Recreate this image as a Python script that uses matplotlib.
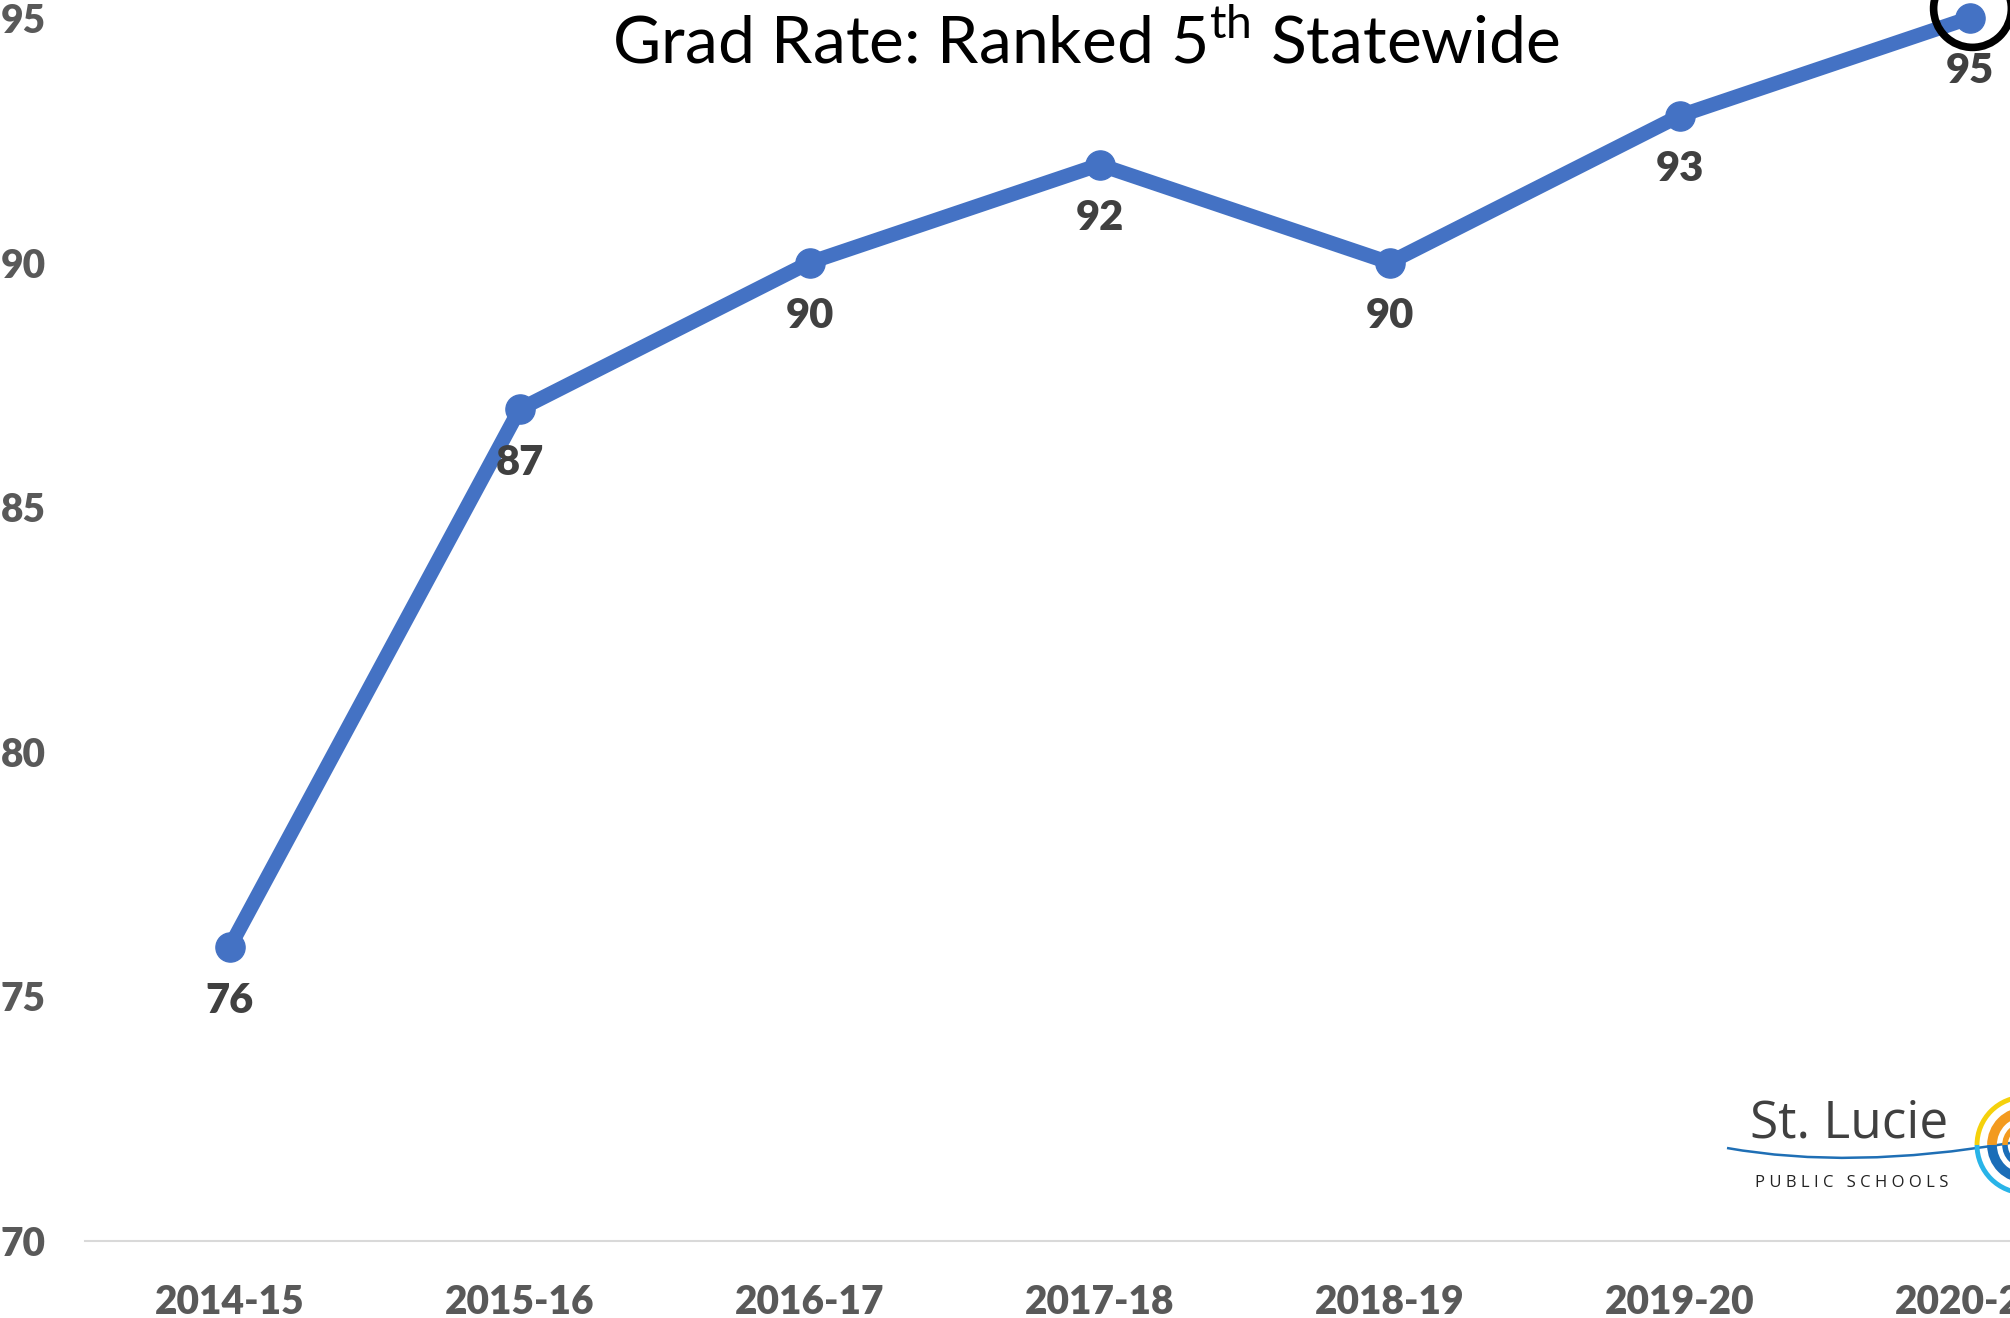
import matplotlib
matplotlib.use("Agg")
import matplotlib.pyplot as plt
import matplotlib.transforms as mtransforms
from matplotlib.patches import Arc, PathPatch
from matplotlib.path import Path

years = ["2014-15", "2015-16", "2016-17", "2017-18", "2018-19", "2019-20", "2020-21"]
grad_rate = [76, 87, 90, 92, 90, 93, 95]
y_ticks = [70, 75, 80, 85, 90, 95]

plt.rcParams['font.family'] = ['Lato', 'DejaVu Sans']
plt.rcParams['mathtext.fontset'] = 'custom'
plt.rcParams['mathtext.rm'] = 'Lato'

fig = plt.figure(figsize=(20.10, 13.18), dpi=100)
ax = fig.add_axes([84.5 / 2010, 77 / 1318, 2030 / 2010, 1223 / 1318])

x = list(range(len(years)))
ax.plot(x, grad_rate, color="#4472C4", lw=10.5, marker="o", markersize=21,
        solid_capstyle="round", zorder=3, clip_on=False)

for xi, v in zip(x, grad_rate):
    ax.annotate(str(v), (xi, v), xytext=(0, -47), textcoords="offset points",
                ha="center", va="baseline", fontsize=30, fontweight="heavy",
                color="#404040", zorder=4)

# ring round the latest value
ring = mtransforms.offset_copy(ax.transData, fig=fig, x=2, y=10, units="dots")
ax.plot([x[-1]], [grad_rate[-1]], marker="o", markersize=56, mfc="none",
        mec="black", mew=5.5, transform=ring, clip_on=False, zorder=5)

ax.set_xlim(-0.5, len(years) - 0.5)
ax.set_ylim(70, 95)
ax.set_xticks(x)
ax.set_xticklabels(years)
ax.set_yticks(y_ticks)
for s in ["top", "right", "left"]:
    ax.spines[s].set_visible(False)
ax.spines["bottom"].set_color("#d9d9d9")
ax.spines["bottom"].set_linewidth(1.5)
ax.tick_params(axis="both", length=0, labelsize=28, labelcolor="#595959")
ax.tick_params(axis="y", pad=28)
ax.tick_params(axis="x", pad=31)
for lab in ax.get_xticklabels() + ax.get_yticklabels():
    lab.set_fontweight("heavy")

fig.text(1086 / 2010, 1 - 63 / 1318, r"Grad Rate: Ranked 5$^{\mathrm{th}}$ Statewide",
         ha="center", va="baseline", fontsize=47.5, color="black")

# logo
lg = fig.add_axes([1700 / 2010, (1318 - 1200) / 1318, 310 / 2010, 120 / 1318])
lg.set_xlim(1700, 2010)
lg.set_ylim(1200, 1080)
lg.axis("off")
lg.text(1750, 1137, "St. Lucie", fontsize=37, color="#404040", ha="left",
        va="baseline", family=["Open Sans", "DejaVu Sans"])
lg.text(1755, 1187, "\u2009\u200a".join("PUBLIC SCHOOLS"), fontsize=12, color="#222222",
        ha="left", va="baseline", family=["Open Sans", "DejaVu Sans"])
wave = Path([(1727, 1148), (1850, 1170), (2010, 1143)],
            [Path.MOVETO, Path.CURVE3, Path.CURVE3])
lg.add_patch(PathPatch(wave, fc="none", ec="#1f6fb5", lw=1.8))
c = (2025, 1145)
lg.add_patch(Arc(c, 96, 96, theta1=180, theta2=270, color="#f5d10c", lw=3.5))
lg.add_patch(Arc(c, 96, 96, theta1=90, theta2=180, color="#29b4e8", lw=3.5))
lg.add_patch(Arc(c, 66, 66, theta1=180, theta2=270, color="#f39a1f", lw=7))
lg.add_patch(Arc(c, 66, 66, theta1=90, theta2=180, color="#1a6db8", lw=7))
lg.add_patch(Arc(c, 40, 40, theta1=180, theta2=270, color="#f39a1f", lw=4))
lg.add_patch(Arc(c, 40, 40, theta1=90, theta2=180, color="#1a6db8", lw=4))

fig.savefig("out.png", dpi=100)
